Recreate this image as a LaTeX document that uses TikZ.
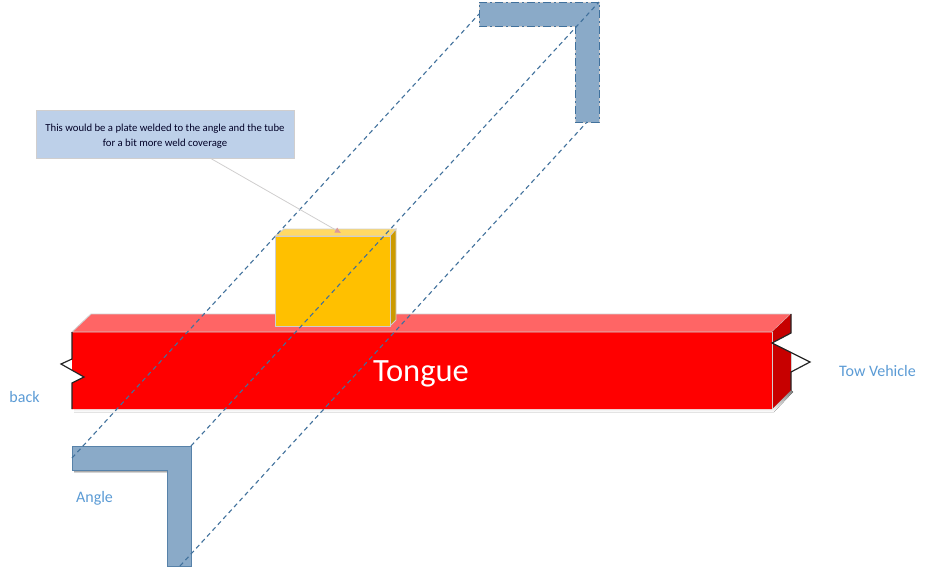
\documentclass[tikz,border=0pt]{standalone}
\usepackage{fontspec}
\setmainfont{Carlito}
\usetikzlibrary{arrows.meta}
\definecolor{steel}{HTML}{8AAAC8}
\definecolor{steeldk}{HTML}{41719C}
\definecolor{note}{HTML}{BDD0E9}
\definecolor{labelblue}{HTML}{5B9BD5}
\definecolor{edgepale}{HTML}{D0CECE}
\definecolor{shade}{HTML}{E6EEF6}
\begin{document}
\begin{tikzpicture}[x=1pt,y=-1pt,line join=miter]
        \tikzstyle{face}=[draw=edgepale,line width=0.9pt]
        \tikzstyle{angleiron}=[fill=steel,draw=steeldk!70!steel,line width=1pt]
        \tikzstyle{sightline}=[draw=steeldk,line width=1.1pt,dash pattern=on 4.5pt off 3.5pt]
        \tikzstyle{caption}=[text=labelblue,font=\fontsize{16}{18}\selectfont,inner sep=0pt]
        \useasboundingbox (0,0) rectangle (926,573);

        % shadows
        \fill[shade] (74,409) -- (772,409) -- (791,390) -- (793,392) -- (774,412) -- (74,412) -- cycle;
        \fill[shade] (74,470) rectangle (167,473);

        % angle, near end
        \draw[angleiron] (72,446) -- (191,446) -- (191,566) -- (167,566) -- (167,470) -- (72,470) -- cycle;
        % angle, far end
        \draw[fill=steel,draw=edgepale,line width=1pt] (479,2) -- (599,2) -- (599,122) -- (575,122) -- (575,26) -- (479,26) -- cycle;
        \draw[steeldk,line width=1pt,dash pattern=on 8pt off 3pt on 2pt off 3pt] (479,2) -- (599,2) -- (599,122) -- (575,122) -- (575,26) -- (479,26) -- cycle;

        % tongue
        \fill[red] (72,332) -- (772,332) -- (772,409) -- (72,409) -- (72,383) -- (84,377) -- (72,370) -- (72,359) -- cycle;
        \draw[face,fill={rgb,255:red,255;green,101;blue,101}] (72,332) -- (91,314) -- (791,314) -- (772,332) -- cycle;
        \fill[red!78!black] (772,332) -- (791,314) -- (791,333) -- (772,343) -- (791,352) -- (791,390) -- (772,409) -- cycle;
        \draw[edgepale,line width=1pt] (772,332) -- (772,409);
        \draw[edgepale,line width=1pt] (791,352) -- (791,372);
        \draw[black!85,line width=1.2pt] (791,314) -- (791,333) -- (772,343) -- (810,362) -- (791,372) -- (791,390);
        \draw[black!85,line width=1.2pt] (72,332) -- (72,359) -- (61,364) -- (84,377) -- (72,383) -- (72,409);
        \node[text=white,font=\fontsize{32.5}{34}\selectfont,inner sep=0pt] (tongue) at (421,373.5) {Tongue};

        % plate
        \draw[face,fill={rgb,255:red,255;green,217;blue,102}] (275,236) -- (284,229) -- (396,229) -- (390,236) -- cycle;
        \draw[face,fill={rgb,255:red,204;green,154;blue,0}] (390,236) -- (396,229) -- (396,320) -- (390,326) -- cycle;
        \draw[face,fill={rgb,255:red,255;green,192;blue,0}] (275,236) rectangle (390,326);
        \coordinate (platetop) at (341,233);

        % sight lines between the two ends
        \coordinate (A1) at (72,458);  \coordinate (B1) at (479,14);
        \coordinate (A2) at (191,446); \coordinate (B2) at (599,2);
        \coordinate (A3) at (180,566); \coordinate (B3) at (587,122);
        \path[sightline] (A1) edge (B1) (A2) edge (B2) (A3) edge (B3);

        % callout
        \node[fill=note,draw=edgepale,line width=0.8pt,minimum width=258pt,minimum height=48pt,inner sep=0pt,
              align=center,text=black!85!blue,font=\fontsize{10.7}{15}\selectfont] (callout) at (165,134)
              {\rule{0pt}{11.5pt}This would be a plate welded to the angle and the tube\\for a bit more weld coverage};
        \draw[edgepale,line width=0.8pt,-{Latex[length=6pt,width=6pt,color=red!25!edgepale]}] (210,158) -- (platetop);

        % labels
        \node[caption] (back) at (24.5,397) {back};
        \node[caption] (tow) at (877.5,371) {Tow Vehicle};
        \node[caption] (angle) at (94.5,498) {Angle};
\end{tikzpicture}
\end{document}
